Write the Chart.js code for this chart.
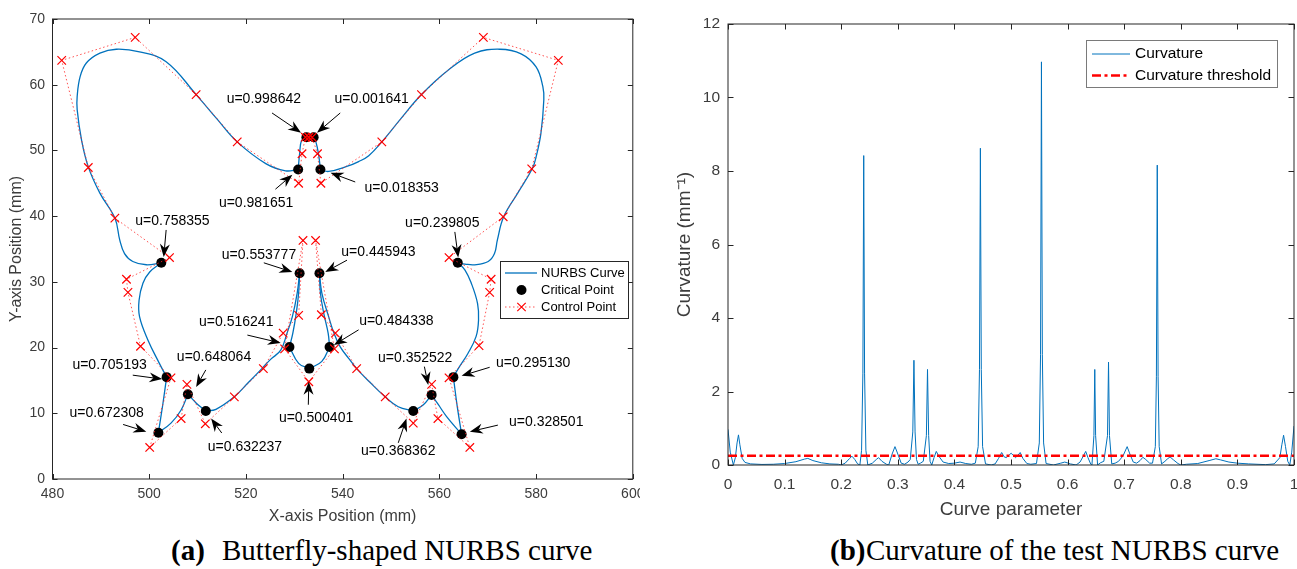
<!DOCTYPE html>
<html lang="en">
<head>
<meta charset="UTF-8" />
<title>Butterfly NURBS curve and curvature</title>
<script src="https://cdn.jsdelivr.net/npm/chart.js"></script>
<style>
  body {
    margin: 0;
    background: #fff;
    width: 1297px;
    height: 569px;
    position: relative;
    overflow: hidden;
  }
  canvas { position: absolute; top: 0; }
  #curveChart { left: 0; }
  #curvChart { left: 650px; }
  .cap {
    position: absolute;
    top: 536px;
    font-family: 'Liberation Serif', 'Times New Roman', serif;
    font-size: 29px;
    line-height: 29px;
    white-space: nowrap;
    color: #000;
  }
</style>
</head>
<body>
<canvas id="curveChart" width="640" height="530"></canvas>
<canvas id="curvChart" width="647" height="530"></canvas>

<span class="cap" style="left:171px"><b>(a)</b></span>
<span class="cap" style="left:222px">Butterfly-shaped NURBS curve</span>
<span class="cap" style="left:830px"><b>(b)</b></span>
<span class="cap" style="left:866px">Curvature of the test NURBS curve</span>

<script>
// ---------- (a) butterfly NURBS curve (mm) ----------
const nurbsCurve = [
  [533.3, 52.1], [534.0, 52.0], [534.4, 51.5], [535.0, 49.5], [535.4, 47.1],
  [537.1, 46.8], [541.0, 47.6], [543.3, 48.3], [545.4, 49.2], [548.1, 51.3],
  [552.0, 54.8], [556.3, 58.5], [561.8, 62.2], [567.3, 64.8], [572.5, 65.4],
  [576.9, 64.7], [580.0, 62.7], [581.4, 59.7], [581.6, 57.7], [581.0, 52.6],
  [580.0, 49.0], [579.2, 47.2], [576.2, 43.5], [573.3, 39.9], [572.0, 36.4],
  [571.4, 34.3], [570.1, 33.1], [567.3, 32.6], [565.3, 32.7], [563.8, 32.9],
  [565.3, 31.8], [566.6, 29.8], [567.9, 26.7], [568.1, 24.2], [567.6, 21.7],
  [565.9, 19.1], [563.9, 16.8], [562.9, 15.5], [563.7, 11.0], [564.6, 6.8],
  [561.5, 9.5], [559.8, 11.3], [558.4, 12.8], [556.7, 11.3], [554.6, 10.35],
  [551.5, 11.0], [548.8, 12.5], [545.8, 14.6], [542.9, 16.8], [541.2, 18.4],
  [539.5, 20.1], [538.2, 22.2], [537.1, 24.7], [535.7, 28.3], [535.2, 31.3],
  [535.4, 28.3], [536.1, 25.2], [537.0, 22.2], [537.3, 20.1], [535.7, 17.9],
  [533.1, 16.8], [530.9, 17.6], [529.0, 20.1], [529.7, 22.2], [530.4, 25.2],
  [530.9, 28.3], [531.1, 31.3], [530.6, 28.3], [529.6, 24.7], [528.5, 22.2],
  [527.2, 19.6], [525.1, 18.2], [523.3, 16.8], [520.4, 14.6], [517.6, 12.5],
  [513.8, 10.6], [511.7, 10.35], [509.8, 11.5], [508.0, 12.9], [506.6, 10.5],
  [504.5, 8.5], [501.9, 7.05], [502.8, 11.3], [503.6, 15.5], [502.1, 17.6],
  [499.7, 21.2], [498.0, 24.7], [497.9, 27.2], [498.7, 29.8], [500.1, 31.5],
  [502.5, 32.9], [499.4, 32.6], [496.6, 33.1], [494.9, 34.3], [493.9, 36.4],
  [492.9, 39.7], [489.8, 43.5], [487.4, 47.5], [486.0, 51.6], [485.1, 56.2],
  [485.1, 58.2], [485.7, 61.2], [487.0, 63.3], [489.8, 64.8], [493.2, 65.4],
  [498.0, 65.0], [503.5, 63.5], [509.7, 58.5], [514.0, 54.8], [518.2, 51.3],
  [524.1, 48.0], [528.2, 46.9], [530.8, 47.1], [531.1, 49.5], [531.5, 51.5],
  [532.5, 52.0], [533.3, 52.1]
];

const criticalU = ['0.001641', '0.018353', '0.239805', '0.295130', '0.328501',
  '0.352522', '0.368362', '0.445943', '0.484338', '0.500401', '0.516241',
  '0.553777', '0.632237', '0.648064', '0.672308', '0.705193', '0.758355',
  '0.981651', '0.998642'];
const criticalPts = [
  [534.0, 52.0], [535.4, 47.1], [563.8, 32.9], [562.9, 15.5], [564.6, 6.8],
  [558.4, 12.8], [554.6, 10.35], [535.2, 31.3], [537.3, 20.1], [533.1, 16.8],
  [529.0, 20.1], [531.1, 31.3], [511.7, 10.35], [508.0, 12.9], [501.9, 7.05],
  [503.6, 15.5], [502.5, 32.9], [530.8, 47.1], [532.5, 52.0]
];

const controlPts = [
  [533.0, 52.0], [533.7, 52.0], [534.8, 49.5], [535.5, 45.0], [548.1, 51.3],
  [556.3, 58.5], [569.1, 67.2], [584.6, 63.7], [579.1, 47.2], [573.2, 39.9],
  [562.0, 33.7], [570.7, 30.4], [570.4, 28.4], [568.2, 20.3], [562.0, 15.4],
  [566.3, 4.8], [559.7, 9.2], [558.4, 14.4], [554.6, 8.5], [548.8, 12.5],
  [542.9, 16.8], [538.5, 22.2], [535.6, 25.0], [534.4, 36.3], [538.3, 19.8],
  [533.0, 14.8], [528.0, 19.8], [531.8, 36.3], [530.9, 24.9], [527.7, 22.2],
  [523.6, 16.8], [517.6, 12.5], [511.6, 8.4], [507.8, 14.4], [506.6, 9.2],
  [500.1, 4.8], [504.5, 15.4], [498.2, 20.2], [495.6, 28.4], [495.3, 30.4],
  [504.2, 33.7], [492.9, 39.7], [487.4, 47.4], [481.9, 63.7], [497.1, 67.2],
  [509.7, 58.5], [518.2, 51.3], [530.9, 45.0], [531.6, 49.5], [532.3, 52.0],
  [533.0, 52.0]
];

const xTicksA = [480, 500, 520, 540, 560, 580, 600];
const yTicksA = [0, 10, 20, 30, 40, 50, 60, 70];

// ---------- (b) curvature vs curve parameter ----------
const curvature = [
  [0, 0.97], [0.004, 0.35], [0.0095, 0.0], [0.013, 0.2], [0.016, 0.6],
  [0.0185, 0.82], [0.021, 0.55], [0.025, 0.18], [0.03, 0.07], [0.04, 0.03],
  [0.06, 0.015], [0.08, 0.02], [0.1, 0.04], [0.12, 0.09], [0.135, 0.16],
  [0.141, 0.18], [0.15, 0.12], [0.165, 0.06], [0.18, 0.03], [0.195, 0.02],
  [0.2, 0.0], [0.207, 0.05], [0.215, 0.18], [0.219, 0.24], [0.224, 0.15],
  [0.229, 0.03], [0.233, 0.0], [0.236, 0.4], [0.2383, 2.5], [0.2398, 8.42],
  [0.2413, 2.5], [0.2436, 0.4], [0.247, 0.0], [0.255, 0.05], [0.262, 0.15],
  [0.266, 0.2], [0.272, 0.1], [0.28, 0.02], [0.284, 0.0], [0.29, 0.3],
  [0.295, 0.5], [0.3, 0.3], [0.306, 0.05], [0.312, 0.02], [0.318, 0.08],
  [0.322, 0.15], [0.3265, 0.9], [0.3285, 2.85], [0.3305, 0.9], [0.333, 0.15],
  [0.336, 0.02], [0.34, 0.05], [0.345, 0.1], [0.3505, 0.8], [0.3525, 2.6],
  [0.3545, 0.8], [0.357, 0.1], [0.36, 0.0], [0.364, 0.2], [0.368, 0.37],
  [0.372, 0.25], [0.38, 0.08], [0.39, 0.04], [0.4, 0.05], [0.41, 0.08],
  [0.42, 0.04], [0.43, 0.02], [0.437, 0.05], [0.442, 0.5], [0.4443, 2.6],
  [0.4459, 8.62], [0.4475, 2.6], [0.4498, 0.5], [0.455, 0.03], [0.465, 0.0],
  [0.472, 0.03], [0.478, 0.18], [0.4835, 0.34], [0.488, 0.22], [0.492, 0.2],
  [0.497, 0.28], [0.5004, 0.32], [0.504, 0.26], [0.508, 0.2], [0.512, 0.26],
  [0.5162, 0.34], [0.521, 0.18], [0.528, 0.04], [0.535, 0.02], [0.545, 0.04],
  [0.55, 0.6], [0.5522, 3.0], [0.5538, 10.97], [0.5554, 3.0], [0.5576, 0.6],
  [0.562, 0.04], [0.575, 0.0], [0.588, 0.05], [0.595, 0.08], [0.605, 0.03],
  [0.615, 0.0], [0.622, 0.08], [0.628, 0.25], [0.632, 0.37], [0.636, 0.2],
  [0.641, 0.02], [0.643, 0.0], [0.6465, 0.8], [0.648, 2.6], [0.6495, 0.8],
  [0.653, 0.0], [0.658, 0.06], [0.664, 0.1], [0.6705, 0.8], [0.6723, 2.8],
  [0.674, 0.8], [0.678, 0.03], [0.684, 0.05], [0.69, 0.1], [0.698, 0.25],
  [0.7052, 0.5], [0.71, 0.3], [0.716, 0.08], [0.722, 0.05], [0.728, 0.12],
  [0.733, 0.21], [0.738, 0.15], [0.745, 0.05], [0.75, 0.05], [0.755, 0.5],
  [0.7569, 2.4], [0.7584, 8.16], [0.7599, 2.4], [0.7618, 0.5], [0.766, 0.03],
  [0.772, 0.1], [0.776, 0.16], [0.781, 0.22], [0.787, 0.14], [0.795, 0.04],
  [0.8, 0.0], [0.81, 0.02], [0.83, 0.04], [0.85, 0.12], [0.862, 0.17],
  [0.87, 0.14], [0.885, 0.08], [0.9, 0.05], [0.92, 0.03], [0.95, 0.01],
  [0.965, 0.03], [0.975, 0.2], [0.9785, 0.55], [0.9816, 0.81], [0.985, 0.5],
  [0.989, 0.1], [0.9925, 0.0], [0.996, 0.35], [1.0, 1.06]
];
const threshold = 0.25;
const xTicksB = [0, 0.1, 0.2, 0.3, 0.4, 0.5, 0.6, 0.7, 0.8, 0.9, 1];
const yTicksB = [0, 2, 4, 6, 8, 10, 12];

// arrow callouts for the critical points: label centre, arrow tail, arrow tip (mm)
const callouts = [
  { u: '0.998642', label: [523.7, 57.8], tail: [525.4, 55.7], tip: [531.4, 52.7] },
  { u: '0.001641', label: [546.0, 57.8], tail: [539.5, 55.7], tip: [534.7, 52.7] },
  { u: '0.018353', label: [552.2, 44.3], tail: [542.6, 45.2], tip: [537.5, 46.6] },
  { u: '0.981651', label: [522.1, 42.0], tail: [526.1, 44.1], tip: [529.6, 46.3] },
  { u: '0.758355', label: [504.8, 39.2], tail: [503.5, 37.9], tip: [503.0, 33.8] },
  { u: '0.239805', label: [560.6, 39.0], tail: [563.2, 37.6], tip: [563.9, 33.7] },
  { u: '0.553777', label: [522.7, 34.1], tail: [523.7, 32.9], tip: [529.6, 31.5] },
  { u: '0.445943', label: [547.4, 34.5], tail: [540.9, 33.3], tip: [536.4, 31.5] },
  { u: '0.516241', label: [518.0, 23.8], tail: [520.3, 21.9], tip: [527.2, 20.7] },
  { u: '0.484338', label: [551.1, 24.0], tail: [543.3, 22.7], tip: [538.2, 20.4] },
  { u: '0.705193', label: [491.8, 17.3], tail: [496.6, 15.8], tip: [502.7, 15.2] },
  { u: '0.648064', label: [513.4, 18.5], tail: [511.7, 16.6], tip: [509.7, 14.0] },
  { u: '0.352522', label: [555.0, 18.4], tail: [556.9, 17.1], tip: [557.7, 14.3] },
  { u: '0.295130', label: [579.4, 17.7], tail: [570.4, 17.0], tip: [564.6, 15.7] },
  { u: '0.672308', label: [491.2, 10.0], tail: [494.6, 8.3], tip: [499.4, 7.2] },
  { u: '0.632237', label: [519.8, 4.9], tail: [515.0, 7.0], tip: [512.8, 9.2] },
  { u: '0.500401', label: [534.5, 9.3], tail: [532.9, 11.3], tip: [533.0, 14.8] },
  { u: '0.368362', label: [551.5, 4.3], tail: [551.5, 5.5], tip: [553.2, 9.2] },
  { u: '0.328501', label: [582.1, 8.7], tail: [572.1, 8.2], tip: [566.3, 7.2] }
];

const FONT = "'Liberation Sans', Arial, sans-serif";
const BLUE = '#0072BD';
const AXIS = '#262626';
const LABEL = '#3c3c3c';

const toXY = p => ({ x: p[0], y: p[1] });

// split the traced curve at the critical points so the corners stay sharp
function isCritical(p) {
  return criticalPts.some(c => c[0] === p[0] && c[1] === p[1]);
}
const segments = [];
let seg = [];
nurbsCurve.forEach((p, i) => {
  seg.push(toXY(p));
  if (i > 0 && i < nurbsCurve.length - 1 && isCritical(p)) {
    segments.push(seg);
    seg = [toXY(p)];
  }
});
segments.push(seg);

// MATLAB-like box with inward ticks
const boxTicks = {
  id: 'boxTicks',
  afterDatasetsDraw(chart, args, opts) {
    const { ctx, chartArea: a, scales: { x, y } } = chart;
    const len = opts.len || 5;
    ctx.save();
    ctx.strokeStyle = AXIS;
    ctx.lineWidth = 1;
    ctx.strokeRect(a.left, a.top, a.right - a.left, a.bottom - a.top);
    ctx.beginPath();
    x.ticks.forEach(t => {
      const p = Math.round(x.getPixelForValue(t.value)) + 0.5;
      ctx.moveTo(p, a.bottom); ctx.lineTo(p, a.bottom - len);
      ctx.moveTo(p, a.top); ctx.lineTo(p, a.top + len);
    });
    y.ticks.forEach(t => {
      const p = Math.round(y.getPixelForValue(t.value)) + 0.5;
      ctx.moveTo(a.left, p); ctx.lineTo(a.left + len, p);
      ctx.moveTo(a.right, p); ctx.lineTo(a.right - len, p);
    });
    ctx.stroke();
    ctx.restore();
  }
};

function drawArrow(ctx, x0, y0, x1, y1) {
  const dx = x1 - x0, dy = y1 - y0;
  const d = Math.hypot(dx, dy), ux = dx / d, uy = dy / d;
  const L = 13, W = 5, N = 9;
  ctx.beginPath();
  ctx.moveTo(x0, y0);
  ctx.lineTo(x1 - ux * N, y1 - uy * N);
  ctx.stroke();
  ctx.beginPath();
  ctx.moveTo(x1, y1);
  ctx.lineTo(x1 - ux * L - uy * W, y1 - uy * L + ux * W);
  ctx.lineTo(x1 - ux * N, y1 - uy * N);
  ctx.lineTo(x1 - ux * L + uy * W, y1 - uy * L - ux * W);
  ctx.closePath();
  ctx.fill();
}

const calloutPlugin = {
  id: 'callouts',
  afterDatasetsDraw(chart) {
    const { ctx, scales: { x, y } } = chart;
    ctx.save();
    ctx.fillStyle = '#000';
    ctx.strokeStyle = '#000';
    ctx.lineWidth = 1;
    ctx.font = '14px ' + FONT;
    ctx.textAlign = 'center';
    ctx.textBaseline = 'middle';
    callouts.forEach(c => {
      drawArrow(ctx,
        x.getPixelForValue(c.tail[0]), y.getPixelForValue(c.tail[1]),
        x.getPixelForValue(c.tip[0]), y.getPixelForValue(c.tip[1]));
      ctx.fillText('u=' + c.u, x.getPixelForValue(c.label[0]), y.getPixelForValue(c.label[1]));
    });
    ctx.restore();
  }
};

function crossMark(ctx, cx, cy, r) {
  ctx.beginPath();
  ctx.moveTo(cx - r, cy - r); ctx.lineTo(cx + r, cy + r);
  ctx.moveTo(cx - r, cy + r); ctx.lineTo(cx + r, cy - r);
  ctx.stroke();
}

const legendA = {
  id: 'legendA',
  afterDraw(chart) {
    const ctx = chart.ctx;
    const bx = 500.5, by = 261.5, bw = 128, bh = 57;
    ctx.save();
    ctx.fillStyle = '#fff';
    ctx.fillRect(bx, by, bw, bh);
    ctx.strokeStyle = AXIS;
    ctx.lineWidth = 1;
    ctx.strokeRect(bx, by, bw, bh);
    const rows = [273, 290, 307];
    // NURBS curve
    ctx.strokeStyle = BLUE; ctx.lineWidth = 1.3;
    ctx.beginPath(); ctx.moveTo(505, rows[0]); ctx.lineTo(537, rows[0]); ctx.stroke();
    // critical point
    ctx.fillStyle = '#000';
    ctx.beginPath(); ctx.arc(521.5, rows[1], 5, 0, Math.PI * 2); ctx.fill();
    // control point
    ctx.strokeStyle = 'rgba(255,40,40,0.8)'; ctx.lineWidth = 1;
    ctx.setLineDash([1.5, 2.5]);
    ctx.beginPath(); ctx.moveTo(505, rows[2]); ctx.lineTo(537, rows[2]); ctx.stroke();
    ctx.setLineDash([]);
    ctx.strokeStyle = '#ff0000'; ctx.lineWidth = 1.2;
    crossMark(ctx, 521.5, rows[2], 4.2);
    ctx.fillStyle = '#000';
    ctx.font = '13px ' + FONT;
    ctx.textBaseline = 'middle';
    ctx.fillText('NURBS Curve', 541, rows[0]);
    ctx.fillText('Critical Point', 541, rows[1]);
    ctx.fillText('Control Point', 541, rows[2]);
    ctx.restore();
  }
};

const legendB = {
  id: 'legendB',
  afterDraw(chart) {
    const ctx = chart.ctx;
    const bx = 436.5, by = 40.5, bw = 191, bh = 47;
    ctx.save();
    ctx.fillStyle = '#fff';
    ctx.fillRect(bx, by, bw, bh);
    ctx.strokeStyle = '#7a7a7a';
    ctx.lineWidth = 1;
    ctx.strokeRect(bx, by, bw, bh);
    ctx.strokeStyle = BLUE; ctx.lineWidth = 1;
    ctx.beginPath(); ctx.moveTo(442, 54); ctx.lineTo(480, 54); ctx.stroke();
    ctx.strokeStyle = '#ff0000'; ctx.lineWidth = 2.5;
    ctx.setLineDash([9, 3.5, 3, 3.5]);
    ctx.beginPath(); ctx.moveTo(442, 75.5); ctx.lineTo(480, 75.5); ctx.stroke();
    ctx.setLineDash([]);
    ctx.fillStyle = '#000';
    ctx.font = '15.5px ' + FONT;
    ctx.textBaseline = 'middle';
    ctx.fillText('Curvature', 485, 54);
    ctx.fillText('Curvature threshold', 485, 75.5);
    ctx.restore();
  }
};

function axisCommon(ticksArr, fmt, size, pad) {
  return {
    type: 'linear',
    min: ticksArr[0],
    max: ticksArr[ticksArr.length - 1],
    afterBuildTicks: s => { s.ticks = ticksArr.map(v => ({ value: v })); },
    grid: { display: false, drawTicks: false },
    border: { display: false },
    ticks: {
      color: LABEL,
      padding: pad,
      font: { family: FONT, size: size },
      callback: fmt,
      maxRotation: 0,
      autoSkip: false
    }
  };
}

// ---- chart (a) ----
const xA = axisCommon(xTicksA, v => String(v), 14, 7);
xA.afterFit = s => { s.height = 51; s.paddingLeft = 0; s.paddingRight = 0; };
xA.title = { display: true, text: 'X-axis Position (mm)', color: LABEL,
  font: { family: FONT, size: 16 }, padding: { top: 0, bottom: 4 } };
const yA = axisCommon(yTicksA, v => String(v), 14, 7.5);
yA.afterFit = s => { s.width = 52.5; s.paddingTop = 0; s.paddingBottom = 0; };
yA.title = { display: true, text: 'Y-axis Position (mm)', color: LABEL,
  font: { family: FONT, size: 16 }, padding: { top: 7, bottom: 0 } };

const curveSets = segments.map(d => ({
  data: d,
  showLine: true,
  borderColor: BLUE,
  borderWidth: 1.3,
  pointRadius: 0,
  tension: 0.4,
  fill: false,
  order: 3
}));

new Chart(document.getElementById('curveChart'), {
  type: 'scatter',
  data: {
    datasets: [
      ...curveSets,
      {
        data: criticalPts.map(toXY),
        showLine: false,
        pointRadius: 5,
        pointBackgroundColor: '#000',
        pointBorderColor: '#000',
        pointBorderWidth: 0,
        order: 2
      },
      {
        data: controlPts.map(toXY),
        showLine: true,
        borderColor: 'rgba(255,40,40,0.8)',
        borderWidth: 1,
        borderDash: [1.5, 2.5],
        tension: 0,
        pointStyle: 'crossRot',
        pointRadius: 6,
        pointBorderColor: '#ff0000',
        pointBorderWidth: 1.2,
        order: 1
      }
    ]
  },
  options: {
    responsive: false,
    animation: false,
    devicePixelRatio: 1,
    events: [],
    layout: { padding: { top: 19, right: 5, left: 0, bottom: 0 } },
    plugins: { legend: { display: false }, tooltip: { enabled: false }, boxTicks: { len: 5 } },
    scales: { x: xA, y: yA }
  },
  plugins: [boxTicks, calloutPlugin, legendA]
});

// ---- chart (b) ----
const xB = axisCommon(xTicksB, v => String(+v.toFixed(1)), 15.5, 10);
xB.afterFit = s => { s.height = 65; s.paddingLeft = 0; s.paddingRight = 0; };
xB.title = { display: true, text: 'Curve parameter', color: LABEL,
  font: { family: FONT, size: 19 }, padding: { top: 0, bottom: 8.6 } };
const yB = axisCommon(yTicksB, v => String(v), 15.5, 8);
yB.afterFit = s => { s.width = 78; s.paddingTop = 0; s.paddingBottom = 0; };
yB.title = { display: true, text: 'Curvature (mm\u207B\u00B9)', color: LABEL,
  font: { family: FONT, size: 19 }, padding: { top: 23.6, bottom: 0 } };

new Chart(document.getElementById('curvChart'), {
  type: 'line',
  data: {
    datasets: [
      {
        data: curvature.map(toXY),
        borderColor: BLUE,
        borderWidth: 1,
        pointRadius: 0,
        tension: 0,
        fill: false,
        order: 2
      },
      {
        data: [{ x: xTicksB[0], y: threshold }, { x: xTicksB[xTicksB.length - 1], y: threshold }],
        borderColor: '#ff0000',
        borderWidth: 2.6,
        borderDash: [9, 3.5, 3, 3.5],
        pointRadius: 0,
        fill: false,
        order: 1
      }
    ]
  },
  options: {
    responsive: false,
    animation: false,
    devicePixelRatio: 1,
    events: [],
    layout: { padding: { top: 24, right: 3, left: 0, bottom: 0 } },
    plugins: { legend: { display: false }, tooltip: { enabled: false }, boxTicks: { len: 5.5 } },
    scales: { x: xB, y: yB }
  },
  plugins: [boxTicks, legendB]
});
</script>
</body>
</html>
